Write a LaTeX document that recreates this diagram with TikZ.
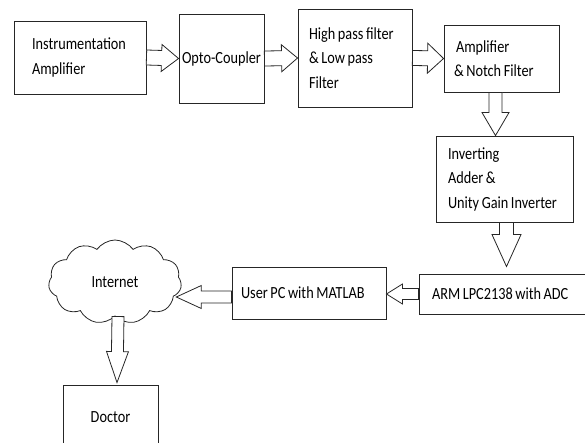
\documentclass[tikz,border=0pt]{standalone}
\usepackage{fontspec}
\setmainfont{Carlito}[FakeStretch=0.84, WordSpace=0.8]
\usetikzlibrary{calc,shapes.symbols}
\tikzset{
	blk/.style={draw=black!85, line width=0.8pt, fill=white},
	box/.style={draw=black!85, line width=0.9pt, align=flush left, inner ysep=0pt},
	cloudbox/.style={cloud, draw=black!85, line width=0.8pt, cloud puffs=11, cloud puff arc=110, aspect=1.6, inner sep=0pt}
}
% hollow block arrow: head length, half head width, half shaft width, from, to
\newcommand\blockarrow[5]{\draw[blk] let \p1=(#4), \p2=(#5), \n1={veclen(\x2-\x1,\y2-\y1)}, \n2={atan2(\y2-\y1,\x2-\x1)} in
	[shift={(\p1)}, rotate=\n2] (0pt,#3) -- ({\n1-#1},#3) -- ({\n1-#1},#2) -- (\n1,0pt) -- ({\n1-#1},-#2) -- ({\n1-#1},-#3) -- (0pt,-#3) -- cycle;}

\begin{document}
\begin{tikzpicture}[x=1pt, y=-1pt, font=\fontsize{17}{24.5}\selectfont]
			%%%%% START %%%%%
			\useasboundingbox (0,0) rectangle (585,443);
			
			\node[box, minimum width=132pt, minimum height=73pt, text width=96pt] (instr) at (80,57.5) {Instrumentation\\Amplifier};
			\node[box, minimum width=85pt, minimum height=89pt, inner xsep=1pt, align=center] (opto) at (221.5,58.5) {Opto-Coupler};
			\node[box, minimum width=114pt, minimum height=98pt, text width=92pt] (hp) at (355,58) {High pass filter\\\& Low pass\\Filter};
			\node[box, minimum width=115pt, minimum height=67pt, text width=95pt] (notch) at (501.5,58.5) {\hspace{2pt}Amplifier\\\& Notch Filter};
			\node[box, minimum width=137pt, minimum height=86pt, text width=113pt] (inv) at (504.5,179) {Inverting\\Adder \&\\Unity Gain Inverter};
			\node[box, minimum width=180pt, minimum height=40pt, text width=154pt] (arm) at (509,294) {ARM LPC2138 with ADC};
			\node[box, minimum width=154pt, minimum height=52pt, text width=136pt] (pc) at (309,293) {User PC with MATLAB};
			\node[cloudbox, minimum width=133pt, minimum height=84pt] (net) at (115,282) {Internet\hspace{8pt}};
			\node[box, minimum width=95pt, minimum height=64pt, align=center] (doc) at (110.5,417) {Doctor};
			
			\blockarrow{17pt}{13.5pt}{7.5pt}{instr.east}{opto.west}
			\blockarrow{16pt}{13.5pt}{7.5pt}{opto.east}{hp.west}
			\blockarrow{16pt}{15pt}{7.5pt}{hp.east}{notch.west}
			\blockarrow{23pt}{13.5pt}{6.5pt}{$(notch.south)+(-6,0)$}{$(inv.north)+(-9,0)$}
			\blockarrow{32pt}{14.5pt}{7pt}{$(inv.south)+(2,0)$}{$(arm.north)+(-2.5,-7)$}
			\blockarrow{16pt}{10pt}{5.5pt}{arm.west}{pc.east |- arm.west}
			\blockarrow{25pt}{11.5pt}{6pt}{$(pc.west)+(0,4)$}{$(net.east |- pc.west)+(-5,4)$}
			\blockarrow{31pt}{11pt}{6pt}{$(net.south)+(3,0)$}{$(doc.north)+(6.5,-2)$}
			
			%%%%% END %%%%%
		\end{tikzpicture}
\end{document}
